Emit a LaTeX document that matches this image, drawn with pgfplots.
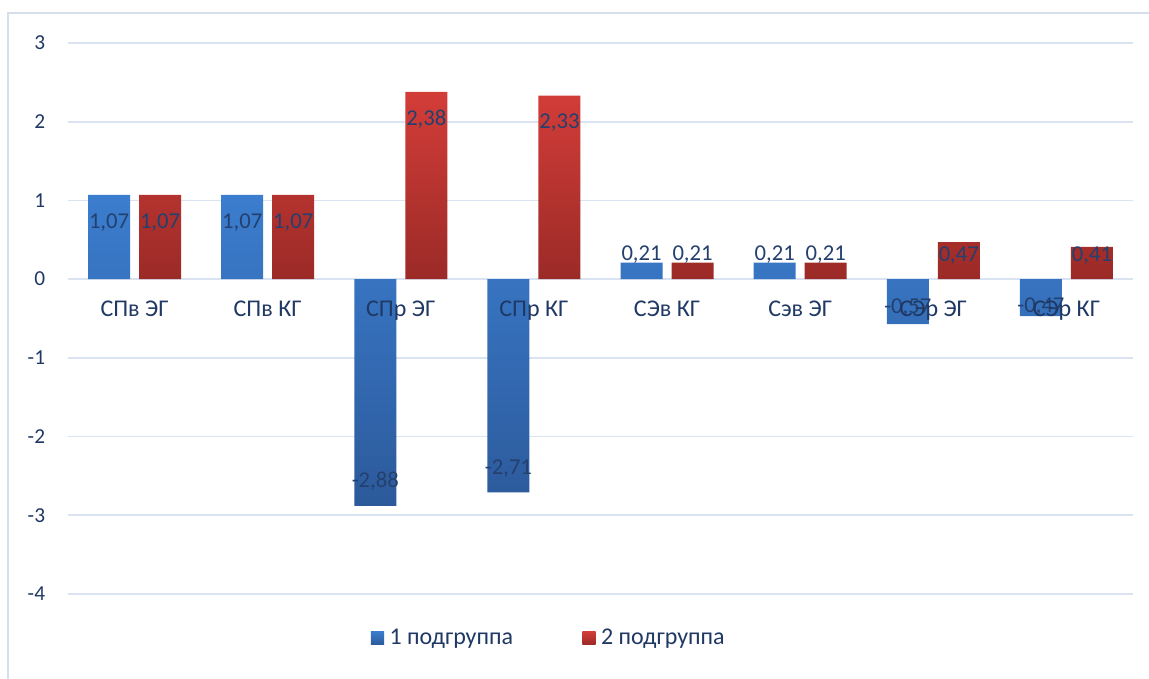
\documentclass[border=0pt]{standalone}
\usepackage{fontspec}
\setmainfont{Carlito}
\usepackage{pgfplots}
\usepackage{pgfplotstable}
\pgfplotsset{compat=1.18}
\definecolor{gridc}{HTML}{D9E3F1}
\definecolor{txt}{HTML}{1F3864}
\definecolor{lbl}{HTML}{24406E}
\definecolor{bluetop}{HTML}{3B7DCE}
\definecolor{bluebot}{HTML}{2C5A9B}
\definecolor{redtop}{HTML}{D33D38}
\definecolor{redbot}{HTML}{9B2A27}
\definecolor{frame}{HTML}{D6DEEA}

\pgfplotsset{
  mybase/.style={
    at={(0,0)}, anchor=south west,
    scale only axis,
    width=798.75pt, height=413.25pt,
    xmin=-0.5, xmax=7.5,
    ymin=-4, ymax=3,
    xtick={0,...,7},
    major tick length=0pt,
    clip=false,
  },
}

\pgfplotstableread{
x y off
0 1.07 -20.4
1 1.07 -20.4
2 -2.88 18.5
3 -2.71 18.2
4 0.21 6.2
5 0.21 6.2
6 -0.57 12.0
7 -0.47 6.8
}\bluedata
\pgfplotstableread{
x y off
0 1.07 -20.4
1 1.07 -20.4
2 2.38 -20.2
3 2.33 -20.2
4 0.21 6.2
5 0.21 6.2
6 0.47 -9.75
7 0.41 -6.2
}\reddata

\begin{document}
\begin{tikzpicture}
\useasboundingbox (-51pt,-63pt) rectangle (810.75pt,445.5pt);
\draw[frame, line width=1pt] (-45pt,-70pt) -- (-45pt,435.75pt) -- (820pt,435.75pt);
\begin{axis}[
  mybase,
  ytick={-4,-3,...,3},
  xticklabels={},
  axis x line=middle,
  axis y line=left,
  x axis line style={gridc, line width=1.2pt, -},
  y axis line style={draw=none},
  ymajorgrids,
  grid style={gridc, line width=1.2pt},
  /pgf/number format/assume math mode=true,
  yticklabel style={anchor=east, inner sep=0pt, xshift=-17pt, text=txt, font=\fontsize{16}{19}\selectfont},
  ybar=6.75pt,
  bar width=31.5pt,
  nodes near coords={\pgfmathprintnumber[fixed,fixed zerofill,precision=2,use comma,assume math mode=true]{\pgfplotspointmeta}},
  nodes near coords align={anchor=center},
  visualization depends on={\thisrow{off} \as \off},
  every node near coord/.append style={anchor=center, yshift=\off pt, text=lbl, inner sep=0pt, font=\fontsize{17}{20}\selectfont},
  legend columns=2,
  legend style={at={(0.4517,-0.0799)}, anchor=center, draw=none, fill=none,
    text=txt, font=\fontsize{18}{21}\selectfont,
    /tikz/every even column/.append style={column sep=50pt},
    /tikz/every odd column/.append style={column sep=2pt}},
  legend image code/.code={\path[#1,draw=none] (0pt,-5pt) rectangle (10pt,5pt);},
]
\addplot[draw=none, top color=bluetop, bottom color=bluebot] table[x=x,y=y] {\bluedata};
\addlegendentry{1 подгруппа}
\addplot[draw=none, top color=redtop, bottom color=redbot] table[x=x,y=y] {\reddata};
\addlegendentry{2 подгруппа}
\end{axis}
\begin{axis}[
  mybase,
  ytick=\empty,
  xticklabels={СПв ЭГ, СПв КГ, СПр ЭГ, СПр КГ, СЭв КГ, Сэв ЭГ, СЭр ЭГ, СЭр КГ},
  axis x line=middle,
  axis y line=none,
  x axis line style={draw=none},
  xticklabel style={anchor=base, inner sep=0pt, yshift=-28pt, text=txt, font=\fontsize{18}{21}\selectfont},
]
\end{axis}
\end{tikzpicture}
\end{document}
